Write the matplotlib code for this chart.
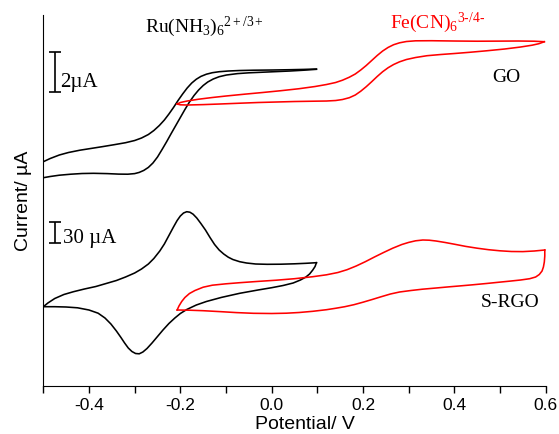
import numpy as np
from matplotlib import pyplot as plt

plt.rcParams['font.family'] = 'Liberation Sans'
plt.rcParams['mathtext.fontset'] = 'custom'
plt.rcParams['mathtext.rm'] = 'Liberation Serif'
plt.rcParams['mathtext.it'] = 'Liberation Serif:italic'

# current values are stacked/offset (arbitrary units), potential in V
# GO, Ru(NH3)6 - the two branches of the loop
go_ru_v1 = [-0.500, -0.485, -0.465, -0.445, -0.420, -0.395, -0.370, -0.345, -0.320, -0.300,
            -0.285, -0.270, -0.258, -0.246, -0.235, -0.225, -0.215, -0.205, -0.195, -0.185,
            -0.175, -0.165, -0.155, -0.143, -0.130, -0.115, -0.095, -0.070, -0.040, 0.000,
            0.040, 0.070, 0.098]
go_ru_i1 = [224.3, 227.5, 231.0, 233.5, 235.8, 237.6, 239.4, 241.3, 243.3, 245.5,
            248.0, 251.5, 255.5, 260.5, 266.0, 272.0, 278.5, 285.5, 292.0, 298.0,
            303.0, 306.8, 309.6, 311.8, 313.3, 314.3, 315.0, 315.5, 315.8, 316.0,
            316.3, 316.6, 317.0]
go_ru_v2 = [-0.500, -0.485, -0.465, -0.440, -0.415, -0.390, -0.360, -0.335, -0.315, -0.300,
            -0.290, -0.280, -0.270, -0.260, -0.250, -0.240, -0.230, -0.220, -0.210, -0.200,
            -0.190, -0.180, -0.170, -0.160, -0.150, -0.140, -0.128, -0.115, -0.099, -0.075,
            -0.050, -0.020, 0.010, 0.040, 0.070, 0.098]
go_ru_i2 = [208.3, 209.5, 210.8, 211.8, 212.5, 212.7, 212.4, 211.9, 211.8, 212.4,
            213.6, 215.6, 218.6, 223.0, 229.0, 236.5, 244.3, 252.5, 260.5, 268.5,
            276.5, 284.0, 290.5, 296.0, 300.5, 304.0, 307.0, 309.3, 311.0, 312.4,
            313.2, 313.8, 314.4, 315.0, 315.8, 316.7]

# GO, Fe(CN)6
go_fe_v1 = [-0.207, -0.200, -0.185, -0.160, -0.130, -0.100, -0.060, -0.020, 0.020, 0.060,
            0.095, 0.120, 0.140, 0.155, 0.170, 0.183, 0.195, 0.207, 0.219, 0.231,
            0.243, 0.255, 0.267, 0.280, 0.295, 0.315, 0.350, 0.400, 0.450, 0.500,
            0.540, 0.575, 0.597]
go_fe_i1 = [282.0, 283.5, 285.0, 286.8, 288.5, 290.0, 291.8, 293.5, 295.3, 297.3,
            299.5, 301.5, 303.5, 305.8, 308.8, 312.0, 316.0, 320.5, 325.5, 330.5,
            335.0, 338.6, 341.3, 343.2, 344.5, 345.2, 345.3, 345.0, 344.8, 344.9,
            345.0, 344.8, 344.3]
go_fe_v2 = [-0.207, -0.200, -0.185, -0.150, -0.114, -0.070, -0.030, 0.010, 0.050, 0.090,
            0.120, 0.140, 0.155, 0.170, 0.183, 0.195, 0.207, 0.219, 0.231, 0.243,
            0.255, 0.267, 0.280, 0.295, 0.315, 0.340, 0.370, 0.400, 0.433, 0.470,
            0.510, 0.545, 0.570, 0.585, 0.597]
go_fe_i2 = [282.0, 281.2, 281.0, 281.4, 282.0, 282.8, 283.5, 284.0, 284.5, 284.8,
            285.0, 285.5, 286.5, 288.3, 291.0, 294.8, 299.3, 304.3, 309.5, 314.3,
            318.3, 321.5, 324.2, 326.5, 328.5, 330.3, 331.5, 332.5, 333.7, 335.2,
            337.0, 339.0, 340.8, 342.3, 344.3]

# S-RGO, Ru(NH3)6
srgo_ru_v1 = [-0.500, -0.490, -0.475, -0.455, -0.434, -0.410, -0.385, -0.361, -0.340, -0.320,
              -0.300, -0.285, -0.270, -0.258, -0.245, -0.235, -0.225, -0.215, -0.207, -0.200,
              -0.193, -0.186, -0.179, -0.172, -0.164, -0.155, -0.145, -0.135, -0.125, -0.115,
              -0.105, -0.095, -0.085, -0.070, -0.055, -0.035, -0.010, 0.020, 0.050, 0.075,
              0.098]
srgo_ru_i1 = [79.3, 83.0, 87.5, 91.5, 94.3, 97.0, 99.5, 102.7, 105.5, 109.0,
              113.0, 117.0, 122.0, 127.5, 135.0, 142.0, 150.5, 159.0, 165.5, 170.0,
              173.0, 174.3, 173.8, 171.8, 168.0, 162.5, 156.0, 148.5, 141.5, 136.0,
              132.0, 128.8, 126.5, 124.3, 123.0, 122.0, 121.7, 121.8, 122.2, 122.7,
              123.3]
srgo_ru_v2 = [0.098, 0.095, 0.090, 0.083, 0.075, 0.063, 0.047, 0.025, 0.000, -0.030,
              -0.070, -0.110, -0.143, -0.165, -0.186, -0.200, -0.212, -0.225, -0.238, -0.250,
              -0.262, -0.273, -0.282, -0.290, -0.298, -0.306, -0.314, -0.322, -0.330, -0.340,
              -0.352, -0.365, -0.380, -0.400, -0.425, -0.450, -0.475, -0.500]
srgo_ru_i2 = [123.3, 119.5, 116.0, 112.0, 109.0, 106.0, 103.0, 100.5, 98.3, 96.0,
              92.7, 88.6, 84.5, 81.0, 76.5, 72.5, 68.0, 62.5, 56.0, 49.5,
              43.0, 37.5, 34.0, 32.2, 32.5, 34.5, 38.0, 43.0, 48.5, 55.0,
              62.0, 68.0, 72.8, 76.0, 78.2, 79.0, 79.3, 79.3]

# S-RGO, Fe(CN)6
srgo_fe_v1 = [-0.207, -0.203, -0.197, -0.190, -0.180, -0.168, -0.150, -0.130, -0.100, -0.070,
              -0.030, 0.010, 0.050, 0.090, 0.120, 0.145, 0.165, 0.185, 0.205, 0.225,
              0.245, 0.265, 0.285, 0.300, 0.315, 0.331, 0.345, 0.360, 0.380, 0.400,
              0.425, 0.450, 0.475, 0.500, 0.525, 0.550, 0.575, 0.598]
srgo_fe_i1 = [76.0, 80.0, 84.5, 88.5, 92.5, 95.5, 98.8, 100.8, 102.2, 103.3,
              104.6, 105.8, 107.3, 109.3, 111.2, 113.5, 116.3, 120.0, 124.3, 129.0,
              133.5, 137.8, 141.5, 143.6, 145.2, 146.0, 145.8, 145.0, 143.5, 141.8,
              139.6, 137.8, 136.3, 135.2, 134.5, 134.4, 135.0, 136.0]
srgo_fe_v2 = [0.598, 0.598, 0.597, 0.595, 0.592, 0.586, 0.578, 0.565, 0.545, 0.520,
              0.498, 0.470, 0.440, 0.410, 0.389, 0.360, 0.330, 0.305, 0.280, 0.260,
              0.240, 0.220, 0.200, 0.180, 0.160, 0.141, 0.120, 0.090, 0.060, 0.032,
              0.000, -0.040, -0.077, -0.110, -0.150, -0.180, -0.207]
srgo_fe_i2 = [136.0, 130.0, 124.0, 119.0, 115.0, 111.5, 109.0, 107.3, 106.0, 104.8,
              103.8, 102.5, 101.2, 100.0, 99.2, 98.0, 96.8, 95.5, 94.0, 92.0,
              89.3, 86.5, 83.8, 81.3, 79.3, 77.8, 76.3, 74.7, 73.5, 72.8,
              72.5, 72.7, 73.4, 74.3, 75.3, 75.8, 76.0]

fig = plt.figure(figsize=(5.59, 4.34), dpi=100)
ax = fig.add_axes([0.0775, 0.1106, 0.8987, 0.8548])

lw = 1.15
ax.plot(go_ru_v1, go_ru_i1, color='k', lw=lw)
ax.plot(go_ru_v2, go_ru_i2, color='k', lw=lw)
ax.plot(go_fe_v1, go_fe_i1, color='red', lw=lw)
ax.plot(go_fe_v2, go_fe_i2, color='red', lw=lw)
ax.plot(srgo_ru_v1, srgo_ru_i1, color='k', lw=lw)
ax.plot(srgo_ru_v2, srgo_ru_i2, color='k', lw=lw)
ax.plot(srgo_fe_v1, srgo_fe_i1, color='red', lw=lw)
ax.plot(srgo_fe_v2, srgo_fe_i2, color='red', lw=lw)

# scale bars
ax.errorbar(-0.474, 314.3, yerr=20, color='k', lw=1.2, capsize=4, capthick=1.2)
ax.errorbar(-0.474, 153.8, yerr=10.5, color='k', lw=1.2, capsize=4, capthick=1.2)
ax.text(-0.463, 299.3, '2µA', family='Liberation Serif', fontsize=15)
ax.text(-0.456, 142.7, '30 µA', family='Liberation Serif', fontsize=15)

ax.text(-0.278, 354, r'Ru(NH$_3$)$_6{}^{2+/3+}$', family='Liberation Serif', fontsize=14)
ax.text(0.258, 357.7, r'Fe(CN)$_6{}^{3\text{-}/4\text{-}}$', family='Liberation Serif',
        fontsize=14, color='red')
ax.text(0.484, 304.3, 'GO', family='Liberation Serif', fontsize=14)
ax.text(0.458, 79.3, 'S-RGO', family='Liberation Serif', fontsize=14)

ax.set_xlim(-0.5, 0.6)
ax.set_ylim(0, 371)
ax.spines['top'].set_visible(False)
ax.spines['right'].set_visible(False)
ax.set_yticks([])
ax.set_xticks(np.arange(-0.4, 0.61, 0.2))
ax.set_xticks(np.arange(-0.5, 0.61, 0.1), minor=True)
ax.set_xticklabels(['-0.4', '-0.2', '0.0', '0.2', '0.4', '0.6'])
ax.tick_params(axis='x', which='both', direction='out', length=5, width=1, labelsize=12.5)
ax.set_xlabel('Potential/ V', fontsize=14)
ax.xaxis.set_label_coords(0.52, -0.08)
ax.set_ylabel('Current/ µA', fontsize=14, labelpad=8)

plt.savefig('out.png', dpi=100)
